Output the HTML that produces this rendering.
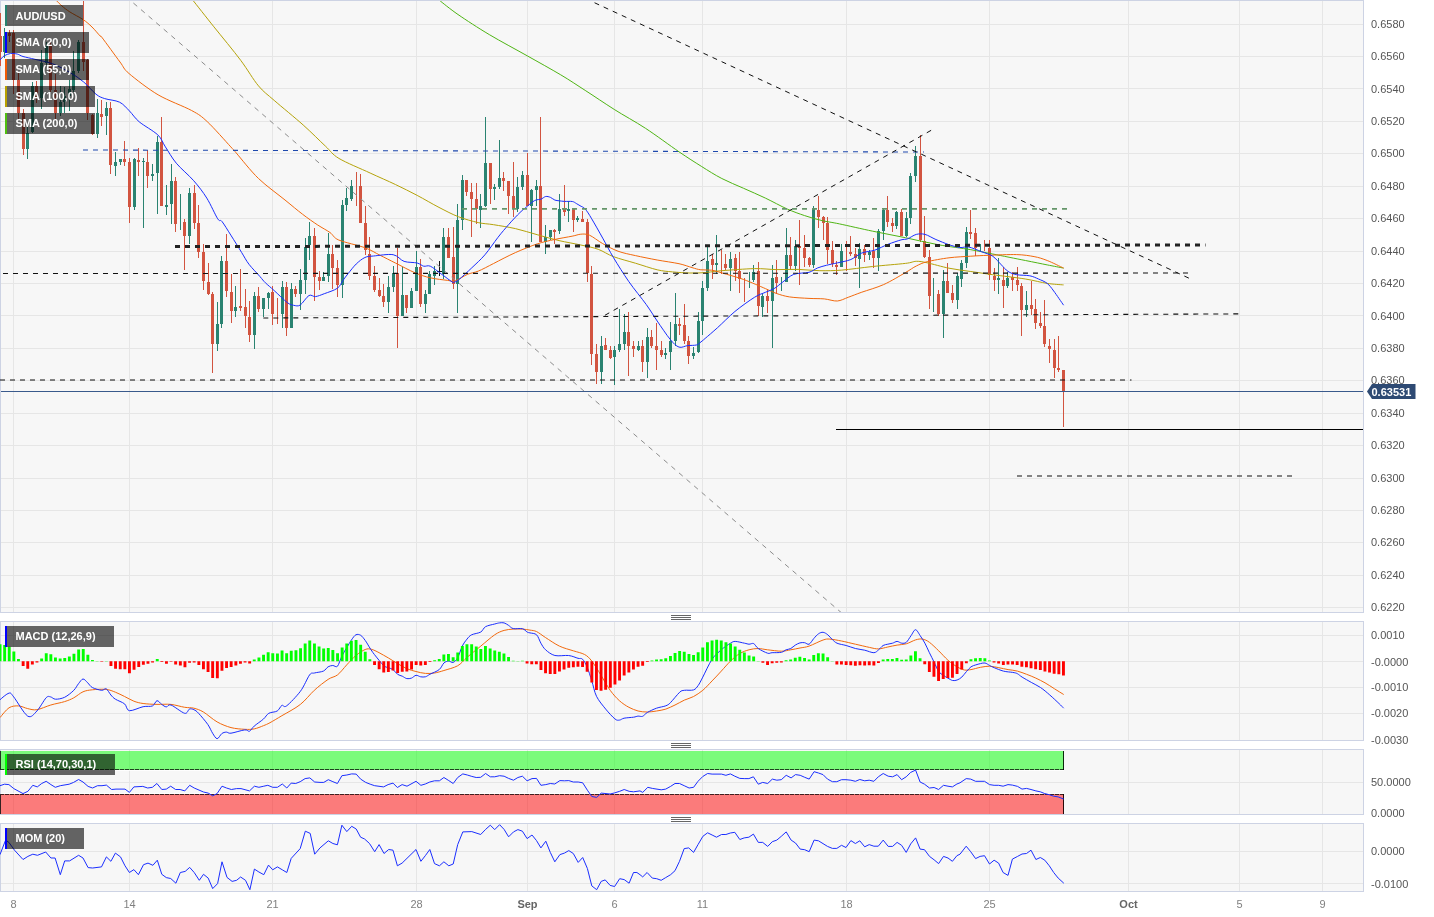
<!DOCTYPE html>
<html lang="en"><head><meta charset="utf-8"><title>AUD/USD 4H chart</title>
<style>html,body{margin:0;padding:0;background:#fff}body{width:1434px;height:917px;overflow:hidden}svg{display:block}text{font-family:"Liberation Sans",Arial,sans-serif}</style></head><body>
<svg width="1434" height="917" viewBox="0 0 1434 917">
<rect width="1434" height="917" fill="#fff"/>
<defs>
<clipPath id="cp0"><rect x="0" y="1" width="1363" height="611"/></clipPath>
<clipPath id="cp1"><rect x="0" y="622" width="1363" height="118"/></clipPath>
<clipPath id="cp2"><rect x="0" y="750" width="1363" height="64"/></clipPath>
<clipPath id="cp3"><rect x="0" y="824" width="1363" height="67"/></clipPath>
</defs>
<g shape-rendering="crispEdges">
<rect x="0" y="0" width="1364" height="613" fill="#cdd3e4"/>
<rect x="1" y="1" width="1362" height="611" fill="#f7f7f7"/>
<rect x="13" y="1" width="1" height="611" fill="#e6e6e6"/>
<rect x="129" y="1" width="1" height="611" fill="#e6e6e6"/>
<rect x="272" y="1" width="1" height="611" fill="#e6e6e6"/>
<rect x="416" y="1" width="1" height="611" fill="#e6e6e6"/>
<rect x="527" y="1" width="1" height="611" fill="#e6e6e6"/>
<rect x="614" y="1" width="1" height="611" fill="#e6e6e6"/>
<rect x="702" y="1" width="1" height="611" fill="#e6e6e6"/>
<rect x="846" y="1" width="1" height="611" fill="#e6e6e6"/>
<rect x="989" y="1" width="1" height="611" fill="#e6e6e6"/>
<rect x="1128" y="1" width="1" height="611" fill="#e6e6e6"/>
<rect x="1239" y="1" width="1" height="611" fill="#e6e6e6"/>
<rect x="1322" y="1" width="1" height="611" fill="#e6e6e6"/>
<rect x="1" y="24" width="1362" height="1" fill="#e6e6e6"/>
<rect x="1" y="56" width="1362" height="1" fill="#e6e6e6"/>
<rect x="1" y="88" width="1362" height="1" fill="#e6e6e6"/>
<rect x="1" y="121" width="1362" height="1" fill="#e6e6e6"/>
<rect x="1" y="153" width="1362" height="1" fill="#e6e6e6"/>
<rect x="1" y="186" width="1362" height="1" fill="#e6e6e6"/>
<rect x="1" y="218" width="1362" height="1" fill="#e6e6e6"/>
<rect x="1" y="251" width="1362" height="1" fill="#e6e6e6"/>
<rect x="1" y="283" width="1362" height="1" fill="#e6e6e6"/>
<rect x="1" y="315" width="1362" height="1" fill="#e6e6e6"/>
<rect x="1" y="348" width="1362" height="1" fill="#e6e6e6"/>
<rect x="1" y="380" width="1362" height="1" fill="#e6e6e6"/>
<rect x="1" y="413" width="1362" height="1" fill="#e6e6e6"/>
<rect x="1" y="445" width="1362" height="1" fill="#e6e6e6"/>
<rect x="1" y="478" width="1362" height="1" fill="#e6e6e6"/>
<rect x="1" y="510" width="1362" height="1" fill="#e6e6e6"/>
<rect x="1" y="542" width="1362" height="1" fill="#e6e6e6"/>
<rect x="1" y="575" width="1362" height="1" fill="#e6e6e6"/>
<rect x="1" y="607" width="1362" height="1" fill="#e6e6e6"/>
<rect x="0" y="621" width="1364" height="120" fill="#cdd3e4"/>
<rect x="1" y="622" width="1362" height="118" fill="#f7f7f7"/>
<rect x="13" y="622" width="1" height="118" fill="#e6e6e6"/>
<rect x="129" y="622" width="1" height="118" fill="#e6e6e6"/>
<rect x="272" y="622" width="1" height="118" fill="#e6e6e6"/>
<rect x="416" y="622" width="1" height="118" fill="#e6e6e6"/>
<rect x="527" y="622" width="1" height="118" fill="#e6e6e6"/>
<rect x="614" y="622" width="1" height="118" fill="#e6e6e6"/>
<rect x="702" y="622" width="1" height="118" fill="#e6e6e6"/>
<rect x="846" y="622" width="1" height="118" fill="#e6e6e6"/>
<rect x="989" y="622" width="1" height="118" fill="#e6e6e6"/>
<rect x="1128" y="622" width="1" height="118" fill="#e6e6e6"/>
<rect x="1239" y="622" width="1" height="118" fill="#e6e6e6"/>
<rect x="1322" y="622" width="1" height="118" fill="#e6e6e6"/>
<rect x="1" y="635" width="1362" height="1" fill="#e6e6e6"/>
<rect x="1" y="661" width="1362" height="1" fill="#e6e6e6"/>
<rect x="1" y="687" width="1362" height="1" fill="#e6e6e6"/>
<rect x="1" y="713" width="1362" height="1" fill="#e6e6e6"/>
<rect x="0" y="749" width="1364" height="66" fill="#cdd3e4"/>
<rect x="1" y="750" width="1362" height="64" fill="#f7f7f7"/>
<rect x="13" y="750" width="1" height="64" fill="#e6e6e6"/>
<rect x="129" y="750" width="1" height="64" fill="#e6e6e6"/>
<rect x="272" y="750" width="1" height="64" fill="#e6e6e6"/>
<rect x="416" y="750" width="1" height="64" fill="#e6e6e6"/>
<rect x="527" y="750" width="1" height="64" fill="#e6e6e6"/>
<rect x="614" y="750" width="1" height="64" fill="#e6e6e6"/>
<rect x="702" y="750" width="1" height="64" fill="#e6e6e6"/>
<rect x="846" y="750" width="1" height="64" fill="#e6e6e6"/>
<rect x="989" y="750" width="1" height="64" fill="#e6e6e6"/>
<rect x="1128" y="750" width="1" height="64" fill="#e6e6e6"/>
<rect x="1239" y="750" width="1" height="64" fill="#e6e6e6"/>
<rect x="1322" y="750" width="1" height="64" fill="#e6e6e6"/>
<rect x="1" y="782" width="1362" height="1" fill="#e6e6e6"/>
<rect x="0" y="823" width="1364" height="69" fill="#cdd3e4"/>
<rect x="1" y="824" width="1362" height="67" fill="#f7f7f7"/>
<rect x="13" y="824" width="1" height="67" fill="#e6e6e6"/>
<rect x="129" y="824" width="1" height="67" fill="#e6e6e6"/>
<rect x="272" y="824" width="1" height="67" fill="#e6e6e6"/>
<rect x="416" y="824" width="1" height="67" fill="#e6e6e6"/>
<rect x="527" y="824" width="1" height="67" fill="#e6e6e6"/>
<rect x="614" y="824" width="1" height="67" fill="#e6e6e6"/>
<rect x="702" y="824" width="1" height="67" fill="#e6e6e6"/>
<rect x="846" y="824" width="1" height="67" fill="#e6e6e6"/>
<rect x="989" y="824" width="1" height="67" fill="#e6e6e6"/>
<rect x="1128" y="824" width="1" height="67" fill="#e6e6e6"/>
<rect x="1239" y="824" width="1" height="67" fill="#e6e6e6"/>
<rect x="1322" y="824" width="1" height="67" fill="#e6e6e6"/>
<rect x="1" y="851" width="1362" height="1" fill="#e6e6e6"/>
<rect x="1" y="883" width="1362" height="1" fill="#e6e6e6"/>
</g>
<g clip-path="url(#cp0)">
<path shape-rendering="crispEdges" fill="#d25440" d="M0,13h1v53h-1zM-1,36h3v16h-3zM9,30h1v12h-1zM8,33h3v3h-3zM13,30h1v64h-1zM12,33h3v47h-3zM18,73h1v46h-1zM17,80h3v33h-3zM23,109h1v46h-1zM22,113h3v36h-3zM36,81h1v22h-1zM35,86h3v12h-3zM50,42h1v50h-1zM49,46h3v44h-3zM55,74h1v45h-1zM54,90h3v23h-3zM83,0h1v71h-1zM82,42h3v20h-3zM87,59h1v61h-1zM86,60h3v53h-3zM92,114h1v21h-1zM91,115h3v19h-3zM101,100h1v26h-1zM100,114h3v3h-3zM110,102h1v72h-1zM109,108h3v57h-3zM124,141h1v25h-1zM123,159h3v3h-3zM129,158h1v65h-1zM128,162h3v45h-3zM138,148h1v28h-1zM137,160h3v2h-3zM147,150h1v38h-1zM146,162h3v14h-3zM161,117h1v89h-1zM160,142h3v64h-3zM175,177h1v55h-1zM174,181h3v43h-3zM184,219h1v51h-1zM183,222h3v14h-3zM194,185h1v44h-1zM193,193h3v30h-3zM198,205h1v53h-1zM197,223h3v29h-3zM203,244h1v46h-1zM202,252h3v29h-3zM208,263h1v32h-1zM207,282h3v12h-3zM212,292h1v81h-1zM211,294h3v50h-3zM226,234h1v63h-1zM225,261h3v30h-3zM231,274h1v49h-1zM230,292h3v19h-3zM240,269h1v42h-1zM239,306h3v2h-3zM245,289h1v39h-1zM244,307h3v9h-3zM249,301h1v41h-1zM248,317h3v18h-3zM258,287h1v25h-1zM257,296h3v13h-3zM272,286h1v39h-1zM271,292h3v22h-3zM277,298h1v26h-1zM286,282h1v54h-1zM285,287h3v41h-3zM295,286h1v11h-1zM294,289h3v5h-3zM314,228h1v73h-1zM313,236h3v41h-3zM319,271h1v19h-1zM318,277h3v4h-3zM332,245h1v44h-1zM331,254h3v14h-3zM337,260h1v37h-1zM336,268h3v17h-3zM356,172h1v34h-1zM360,174h1v49h-1zM359,186h3v37h-3zM365,206h1v49h-1zM364,223h3v27h-3zM369,237h1v43h-1zM368,254h3v22h-3zM374,266h1v26h-1zM373,276h3v14h-3zM379,278h1v19h-1zM378,290h3v6h-3zM383,284h1v23h-1zM382,296h3v6h-3zM397,248h1v100h-1zM396,273h3v43h-3zM406,295h1v18h-1zM405,295h3v13h-3zM420,259h1v48h-1zM419,267h3v37h-3zM448,228h1v30h-1zM447,237h3v21h-3zM453,227h1v62h-1zM452,257h3v27h-3zM466,180h1v16h-1zM465,180h3v12h-3zM471,183h1v54h-1zM470,192h3v7h-3zM476,183h1v41h-1zM475,199h3v10h-3zM490,163h1v41h-1zM489,163h3v26h-3zM503,172h1v19h-1zM502,178h3v3h-3zM508,181h1v33h-1zM507,181h3v15h-3zM513,162h1v55h-1zM512,196h3v13h-3zM527,153h1v53h-1zM526,175h3v31h-3zM540,117h1v125h-1zM539,186h3v56h-3zM554,229h1v15h-1zM553,230h3v2h-3zM564,185h1v31h-1zM563,209h3v3h-3zM573,209h1v23h-1zM572,209h3v11h-3zM582,211h1v11h-1zM581,219h3v3h-3zM587,219h1v63h-1zM586,222h3v51h-3zM591,266h1v99h-1zM590,274h3v80h-3zM596,344h1v40h-1zM595,354h3v18h-3zM605,338h1v12h-1zM604,345h3v5h-3zM610,346h1v13h-1zM609,350h3v8h-3zM628,312h1v64h-1zM627,332h3v14h-3zM633,341h1v16h-1zM632,346h3v3h-3zM642,340h1v32h-1zM641,346h3v16h-3zM651,330h1v18h-1zM650,337h3v9h-3zM656,323h1v47h-1zM655,346h3v4h-3zM661,341h1v16h-1zM660,350h3v5h-3zM679,318h1v17h-1zM678,324h3v2h-3zM684,304h1v40h-1zM683,325h3v16h-3zM688,336h1v28h-1zM687,341h3v15h-3zM712,254h1v25h-1zM711,259h3v6h-3zM721,250h1v24h-1zM725,254h1v16h-1zM724,264h3v4h-3zM735,254h1v27h-1zM734,258h3v13h-3zM739,252h1v41h-1zM738,271h3v8h-3zM744,278h1v24h-1zM758,262h1v54h-1zM757,271h3v35h-3zM767,289h1v24h-1zM766,296h3v5h-3zM776,260h1v34h-1zM775,277h3v6h-3zM790,237h1v32h-1zM789,255h3v11h-3zM799,220h1v65h-1zM798,246h3v2h-3zM804,235h1v32h-1zM803,248h3v10h-3zM809,257h1v10h-1zM808,258h3v7h-3zM818,196h1v32h-1zM817,210h3v7h-3zM823,216h1v24h-1zM822,217h3v6h-3zM827,217h1v47h-1zM826,223h3v27h-3zM832,241h1v26h-1zM831,250h3v14h-3zM836,261h1v14h-1zM835,265h3v2h-3zM846,241h1v30h-1zM850,236h1v20h-1zM849,252h3v2h-3zM855,248h1v18h-1zM854,254h3v4h-3zM864,245h1v17h-1zM863,249h3v6h-3zM873,238h1v30h-1zM872,251h3v7h-3zM887,196h1v31h-1zM886,210h3v12h-3zM892,218h1v14h-1zM891,223h3v3h-3zM901,209h1v27h-1zM900,212h3v24h-3zM920,135h1v107h-1zM919,156h3v84h-3zM924,216h1v42h-1zM923,241h3v16h-3zM929,250h1v59h-1zM928,257h3v39h-3zM938,290h1v26h-1zM937,294h3v20h-3zM947,263h1v30h-1zM946,281h3v12h-3zM952,285h1v18h-1zM951,293h3v7h-3zM970,210h1v29h-1zM969,232h3v2h-3zM975,228h1v28h-1zM974,233h3v15h-3zM984,240h1v11h-1zM989,240h1v40h-1zM988,248h3v27h-3zM994,268h1v23h-1zM993,276h3v4h-3zM1003,267h1v41h-1zM1002,280h3v6h-3zM1012,272h1v19h-1zM1011,277h3v3h-3zM1017,267h1v24h-1zM1016,280h3v5h-3zM1021,283h1v53h-1zM1020,286h3v24h-3zM1031,281h1v34h-1zM1030,305h3v4h-3zM1035,299h1v30h-1zM1034,309h3v14h-3zM1040,312h1v16h-1zM1039,323h3v3h-3zM1044,300h1v47h-1zM1043,326h3v18h-3zM1049,339h1v24h-1zM1048,346h3v3h-3zM1054,339h1v39h-1zM1053,350h3v18h-3zM1058,336h1v36h-1zM1057,368h3v2h-3zM1063,370h1v57h-1zM1062,370h3v21h-3z"/>
<path shape-rendering="crispEdges" fill="#2a8371" d="M4,28h1v30h-1zM3,36h3v16h-3zM27,126h1v33h-1zM26,133h3v16h-3zM32,82h1v51h-1zM31,86h3v46h-3zM41,50h1v59h-1zM40,63h3v35h-3zM46,42h1v23h-1zM45,46h3v17h-3zM60,86h1v30h-1zM59,102h3v11h-3zM64,87h1v26h-1zM63,96h3v6h-3zM69,80h1v31h-1zM68,89h3v7h-3zM73,51h1v41h-1zM72,71h3v19h-3zM78,40h1v33h-1zM77,42h3v29h-3zM97,99h1v39h-1zM96,113h3v21h-3zM106,102h1v33h-1zM105,108h3v8h-3zM115,152h1v24h-1zM114,162h3v4h-3zM120,159h1v6h-1zM119,159h3v3h-3zM134,158h1v52h-1zM133,159h3v48h-3zM143,158h1v70h-1zM142,161h3v1h-3zM152,164h1v17h-1zM151,174h3v2h-3zM157,136h1v78h-1zM156,142h3v31h-3zM166,185h1v30h-1zM165,205h3v2h-3zM171,164h1v60h-1zM170,181h3v23h-3zM180,194h1v36h-1zM189,188h1v56h-1zM188,193h3v43h-3zM217,302h1v49h-1zM216,324h3v20h-3zM221,256h1v72h-1zM220,261h3v63h-3zM235,286h1v31h-1zM234,307h3v4h-3zM254,292h1v57h-1zM253,296h3v39h-3zM263,298h1v19h-1zM262,298h3v11h-3zM268,292h1v17h-1zM267,293h3v5h-3zM282,281h1v47h-1zM281,287h3v27h-3zM291,283h1v45h-1zM290,289h3v39h-3zM300,269h1v41h-1zM299,280h3v14h-3zM305,238h1v56h-1zM304,247h3v33h-3zM309,222h1v38h-1zM308,236h3v9h-3zM323,272h1v9h-1zM322,277h3v4h-3zM328,233h1v49h-1zM327,254h3v22h-3zM342,200h1v98h-1zM341,205h3v80h-3zM346,188h1v23h-1zM345,198h3v7h-3zM351,180h1v21h-1zM350,186h3v13h-3zM388,276h1v37h-1zM387,287h3v15h-3zM393,266h1v26h-1zM392,273h3v14h-3zM402,267h1v49h-1zM401,295h3v21h-3zM411,288h1v20h-1zM410,291h3v17h-3zM416,251h1v40h-1zM415,267h3v24h-3zM425,290h1v23h-1zM424,294h3v10h-3zM429,271h1v23h-1zM428,274h3v20h-3zM434,266h1v19h-1zM433,271h3v5h-3zM443,228h1v51h-1zM442,237h3v37h-3zM457,204h1v109h-1zM456,220h3v64h-3zM462,175h1v55h-1zM461,180h3v40h-3zM480,194h1v34h-1zM479,206h3v4h-3zM485,117h1v90h-1zM484,163h3v43h-3zM494,184h1v16h-1zM493,187h3v2h-3zM499,140h1v49h-1zM498,178h3v9h-3zM517,177h1v35h-1zM516,187h3v22h-3zM522,171h1v19h-1zM521,175h3v12h-3zM531,189h1v53h-1zM530,190h3v16h-3zM536,180h1v26h-1zM535,186h3v4h-3zM545,225h1v29h-1zM544,237h3v5h-3zM550,230h1v10h-1zM549,230h3v7h-3zM559,194h1v40h-1zM558,209h3v22h-3zM568,201h1v21h-1zM567,209h3v2h-3zM577,216h1v6h-1zM576,218h3v2h-3zM601,336h1v48h-1zM600,346h3v26h-3zM614,346h1v39h-1zM613,350h3v7h-3zM619,309h1v43h-1zM618,344h3v6h-3zM624,314h1v36h-1zM623,332h3v12h-3zM638,341h1v10h-1zM637,346h3v4h-3zM647,328h1v50h-1zM646,337h3v25h-3zM665,348h1v11h-1zM664,353h3v2h-3zM670,322h1v48h-1zM669,341h3v11h-3zM675,293h1v53h-1zM674,324h3v17h-3zM693,347h1v12h-1zM692,353h3v3h-3zM698,312h1v41h-1zM697,321h3v31h-3zM702,281h1v54h-1zM701,288h3v33h-3zM707,247h1v44h-1zM706,261h3v27h-3zM716,235h1v39h-1zM715,263h3v2h-3zM730,252h1v39h-1zM729,259h3v9h-3zM749,272h1v16h-1zM753,265h1v17h-1zM752,272h3v8h-3zM762,294h1v23h-1zM761,296h3v11h-3zM772,265h1v83h-1zM771,278h3v23h-3zM781,277h1v14h-1zM786,228h1v54h-1zM785,255h3v27h-3zM795,240h1v31h-1zM794,246h3v20h-3zM813,206h1v62h-1zM812,208h3v57h-3zM841,244h1v23h-1zM840,251h3v16h-3zM859,243h1v45h-1zM858,249h3v10h-3zM869,250h1v10h-1zM868,252h3v3h-3zM878,229h1v42h-1zM877,231h3v27h-3zM883,208h1v32h-1zM882,210h3v21h-3zM896,211h1v18h-1zM895,212h3v14h-3zM906,212h1v25h-1zM905,218h3v18h-3zM910,173h1v51h-1zM909,176h3v42h-3zM915,146h1v36h-1zM914,156h3v20h-3zM933,278h1v34h-1zM943,270h1v68h-1zM942,281h3v33h-3zM957,273h1v36h-1zM956,276h3v24h-3zM961,260h1v27h-1zM960,263h3v16h-3zM966,227h1v41h-1zM965,232h3v31h-3zM980,244h1v8h-1zM998,258h1v36h-1zM997,278h3v2h-3zM1007,272h1v16h-1zM1006,278h3v8h-3zM1026,291h1v26h-1zM1025,305h3v5h-3z"/>
<path shape-rendering="crispEdges" fill="#111" d="M439,261h1v15h-1zM437,271h5v1h-5z"/>
<path d="M439,0C442,2.3 450,9 458,14.5C466,20 478.2,28 489.3,34.6C500.4,41.2 515.8,49.4 527.2,55.8C538.6,62.2 551.4,69.3 560.7,74.8C570,80.3 576.6,84.9 585.2,90.4C593.8,95.9 604.6,103.3 614.2,109.4C623.8,115.5 635.1,121.5 645.5,128.3C655.9,135.1 670.1,145.7 679,151.8C687.9,157.9 694.5,162 701.3,166.3C708.1,170.6 715,175 721.8,178.5C728.6,182 736.6,185.2 743.6,188.3C750.6,191.4 758.4,194.8 765.4,198.1C772.4,201.4 780.9,206.2 787.2,209C793.5,211.8 799,213.7 804.6,215.6C810.2,217.5 816.5,219.3 822.1,220.6C827.7,221.9 831.4,222.2 839.5,223.9C847.6,225.6 862.2,229 872.7,231.2C883.2,233.4 894.9,235.5 905.4,237.7C915.9,239.9 927.6,242.8 938.1,244.7C948.6,246.6 962.1,248.2 970.8,249.7C979.5,251.2 984,252.3 992.7,254C1001.4,255.7 1016.7,258.8 1025.4,260.5C1034.1,262.2 1041.1,263.7 1047.2,264.9C1053.3,266.1 1061,267.6 1063.6,268.1" fill="none" stroke="#4fb514" stroke-width="1"/>
<path d="M192.7,0C196.1,4.3 206.2,17.2 213.9,26.8C221.6,36.4 233.6,50.8 240.7,60.3C247.8,69.8 253.1,79.5 258.5,85.9C263.9,92.3 267,94.1 274.2,100.4C281.4,106.7 295,117.7 303.2,125C311.4,132.3 319.8,140.9 325.5,146.2C331.2,151.5 331.8,154.1 338.9,158.4C346,162.7 361.1,168.8 370.1,173C379.1,177.2 387.9,180.9 395.4,184.5C402.9,188.1 410.2,191.7 417.2,195.4C424.2,199.1 432.4,204 439,207.4C445.6,210.8 452.3,214.4 458.6,216.8C464.9,219.2 472.6,221.3 478.2,222.6C483.8,223.9 487.6,223.7 493.6,224.7C499.6,225.7 508.4,227 515.4,228.6C522.4,230.2 530.2,232.8 537.2,234.7C544.2,236.6 552,239 559,240.6C566,242.2 574.5,243.6 580.8,245C587.1,246.4 593,247.4 598.2,249.3C603.4,251.2 607.6,254.5 613.6,256.7C619.6,258.9 628.4,261.1 635.4,263.2C642.4,265.3 651.3,268.4 657.2,269.8C663.1,271.2 667.3,271.4 672.5,271.9C677.7,272.4 684.7,272.9 689.9,273C695.1,273.1 700.1,273 705.2,272.6C710.3,272.2 713.9,271.3 721.8,270.7C729.7,270.1 745.8,268.8 754.5,268.6C763.2,268.4 769.3,269.5 776.3,269.6C783.3,269.7 791.1,269.2 798.1,269.4C805.1,269.6 812.9,270.6 819.9,270.7C826.9,270.8 833.3,270.8 841.7,270.1C850.1,269.4 862.5,267.6 872.7,266.5C882.9,265.4 898.4,264.2 905.4,263.4C912.4,262.6 912.8,261.4 916.3,261.3C919.8,261.2 922,261.7 927.2,262.8C932.4,263.9 942,266.8 949,268.2C956,269.6 963.8,270.5 970.8,271.5C977.8,272.5 984,273.5 992.7,274.7C1001.4,275.9 1016.7,277.6 1025.4,279C1034.1,280.4 1041.1,282.5 1047.2,283.4C1053.3,284.3 1061,284.7 1063.6,284.9" fill="none" stroke="#b5a30a" stroke-width="1"/>
<path d="M55.8,0C56.8,1 59.8,4.1 62,6C64.2,7.9 66.4,9.7 69.8,11.9C73.2,14.1 79.4,17.1 83,19.5C86.6,21.9 89.3,24.4 92,27C94.7,29.6 98.4,34.2 100,35.9C101.6,37.6 99.1,33.7 102.3,37.9C105.5,42.1 115.7,56.3 120,62C124.3,67.7 123,68.4 129.1,73.6C135.2,78.8 148.1,88.9 158.1,94.8C168.1,100.7 183.7,106.2 191.6,110.5C199.5,114.8 200.9,115.8 207.2,121.6C213.5,127.4 226.2,141.9 230.8,146.9C235.4,151.9 231.8,147.8 236.2,152.9C240.6,158 250.7,171 258.5,178.5C266.3,186 278,194.3 285,200C292,205.7 297.3,210.2 302.5,214.2C307.7,218.2 313.3,222.1 317.7,225C322.1,227.9 326.6,230.1 330,232.5C333.4,234.9 333.1,237.6 338.7,240C344.3,242.4 358.3,245.3 364.9,247.7C371.5,250.1 375.2,252.9 380.1,255.3C385,257.7 389.8,260.2 395.4,263C401,265.8 409.4,270.4 415,272.8C420.6,275.2 425.1,276.6 430.3,277.8C435.5,279 443.7,279.9 447.7,280.4C451.7,280.9 452.1,281.8 455.3,280.8C458.5,279.8 463.7,276 467.4,274.4C471.1,272.8 474.1,272.8 478.3,271.1C482.5,269.4 487.7,266.5 493.6,263.5C499.5,260.5 508.4,255.7 515.4,252.6C522.4,249.5 530.9,246 537.2,243.9C543.5,241.8 549,240.7 554.6,239.5C560.2,238.3 567.9,237 572.1,236.2C576.3,235.4 578,234.4 580.8,234.2C583.6,234 586,233.7 589.5,235.2C593,236.7 598.1,241 602.7,243.6C607.3,246.2 612.8,249.3 618,251.2C623.2,253.1 629.1,254.2 635.4,255.6C641.7,257 650.2,258.7 657.2,260C664.2,261.3 673.4,262.5 679,263.7C684.6,264.9 688.5,266.6 692,267.6C695.5,268.6 697.6,269.4 700.8,269.8C704,270.2 708.3,269.7 711.7,270.2C715.1,270.7 716.7,271.4 721.8,272.9C726.9,274.4 736.6,277 743.6,279.5C750.6,282 760.2,286.4 765.4,288.6C770.6,290.8 772.5,292.1 776.3,293.4C780.1,294.7 784.2,296.1 789.4,296.9C794.6,297.7 803.4,298.1 809,298.4C814.6,298.7 819.8,298.5 824.3,298.9C828.8,299.3 833.5,301.3 837.3,301C841.1,300.7 844.3,298.7 848.2,297.3C852.1,295.9 856.1,294.2 861.8,292.2C867.5,290.2 876.6,287.7 883.6,284.6C890.6,281.5 900.2,275.6 905.4,272.6C910.6,269.6 912.8,267.7 916.3,266C919.8,264.3 922,263 927.2,261.7C932.4,260.4 942,258.7 949,257.8C956,256.9 964.5,256.6 970.8,256.2C977.1,255.8 980.9,255.6 988.2,255.3C995.5,255 1009.4,254.4 1016.7,254.6C1024,254.8 1029.2,255.7 1034.1,256.6C1039,257.5 1042.5,258.7 1047.2,260.5C1051.9,262.3 1061,266.9 1063.6,268.1" fill="none" stroke="#f2690d" stroke-width="1"/>
<path d="M0,60C0.7,59.3 2.5,56.8 4.2,55.8C5.9,54.8 8.4,53.8 10.5,53.5C12.6,53.2 15.4,53.6 17.4,54.1C19.4,54.6 20.2,55.7 23,56.5C25.8,57.3 30.2,58.1 34.9,59.3C39.6,60.5 46.7,61.6 52.3,63.7C57.9,65.8 64.8,69.5 69.8,72.4C74.8,75.3 79.5,78.5 83.7,82C87.9,85.5 92.6,91.5 96,94.2C99.4,96.9 100.9,97.3 104.7,98.6C108.5,99.9 115.6,100.2 119.6,102.2C123.6,104.2 126.3,107.8 129.4,110.9C132.5,114 134.7,118 139.2,121.8C143.7,125.6 153.6,130.9 157.8,134.9C162,138.9 162.4,142.4 165.4,146.9C168.4,151.4 171.8,157.8 176.3,163.2C180.8,168.6 188.8,175.1 193.7,180.7C198.6,186.3 203,192 206.8,198.1C210.6,204.2 215.3,215.1 217.7,218.8C220.1,222.5 219.9,218.9 222,221.5C224.1,224.1 227.6,230.1 230.8,235.1C234,240.1 238.8,247.9 241.7,252.6C244.6,257.3 246.1,260.5 249,264.3C251.9,268.1 257.4,273.6 260,276.6C262.6,279.6 263.1,280.6 265.4,282.8C267.7,285 270.6,287.3 274.1,290.5C277.6,293.7 284.1,300.1 287.2,302.5C290.3,304.9 291.6,304.9 293.7,305.3C295.8,305.7 297.9,306.6 300.3,305C302.7,303.4 306.6,296.8 309,295.5C311.4,294.2 313.1,296.9 315.5,296.6C317.9,296.3 320.8,295 324.3,293.7C327.8,292.4 334.3,290.4 337.3,288.3C340.3,286.2 341.3,282.8 343,280.4C344.7,278 346.1,276.1 348.2,273.5C350.3,270.9 353.5,266.6 356.2,264C358.9,261.4 362.1,258.8 364.9,257.5C367.7,256.2 369.1,256.4 373.6,256C378.1,255.6 388.3,253.8 393.2,254.7C398.1,255.6 400.3,260.1 404.1,261.4C407.9,262.7 414.1,262.2 417.2,263C420.3,263.8 421.6,265.7 423.7,266.2C425.8,266.7 427.5,265 430.3,266.2C433.1,267.4 437.7,271.4 441.2,273.9C444.7,276.4 450,280.6 452.1,281.9C454.2,283.2 453.3,282.3 454.4,282C455.5,281.7 455.9,282.1 458.7,279.8C461.5,277.5 467.6,271.8 471.8,267.8C476,263.8 480.7,259.7 484.9,254.8C489.1,249.9 494.2,242.2 498,237.3C501.8,232.4 505.4,228.3 508.9,224.3C512.4,220.3 517,215.4 520,212.5C523,209.6 525.4,207.9 527.4,206.2C529.4,204.5 531.1,202.8 532.6,201.8C534.1,200.8 535.3,200.2 536.6,199.8C537.9,199.4 539.4,199.7 540.9,199.2C542.4,198.7 544.2,196.8 545.7,196.5C547.2,196.2 549,196.8 550.5,197.4C552,198 553.5,199.6 554.9,200.1C556.3,200.6 557.7,200.6 559.2,200.8C560.7,201 562.4,201.3 564.5,201.4C566.6,201.5 570.4,201.2 572.3,201.5C574.2,201.8 575.1,202.8 576.3,203.5C577.5,204.2 578.6,204.8 580,205.7C581.4,206.6 583.3,206.9 585.2,209C587.1,211.1 588.9,214.1 591.7,218.8C594.5,223.5 599.2,231.9 602.7,238.1C606.2,244.3 609.4,250.8 613.6,257.8C617.8,264.8 623.7,274.2 628.9,281.7C634.1,289.2 641.8,298.3 646.3,304.6C650.8,310.9 653.4,315.4 657.2,321C661,326.6 666.8,335.3 670.3,339.5C673.8,343.7 676.2,346.1 679,347.1C681.8,348.1 684.9,345.9 687.7,345.6C690.5,345.3 694.4,345.5 696.4,345C698.4,344.5 698.6,343.8 700,342.7C701.4,341.6 702.4,340.8 705.2,338.4C708,336 712.6,332.1 717.4,327.8C722.2,323.5 729,316.4 734.9,311.5C740.8,306.6 749.6,300.4 754.5,297.3C759.4,294.2 762.3,293.7 765.4,292.3C768.5,290.9 771.3,290.2 774.1,288.6C776.9,287 779.7,284.3 782.8,282C785.9,279.7 789.5,276 793.7,274.4C797.9,272.8 805.2,273.3 809,272.3C812.8,271.3 814.9,269 817.7,267.9C820.5,266.8 823.3,266.1 826.4,265.3C829.5,264.5 833.4,263.8 837.3,262.9C841.2,262 847,261.1 850.9,259.5C854.8,257.9 858,254.5 861.8,253C865.6,251.5 870.7,251.5 874.9,250.1C879.1,248.7 883.8,245.9 888,244.3C892.2,242.7 897.9,240.8 901,239.9C904.1,239 905.2,239.7 907.6,238.8C910,237.9 913.5,235.1 916.3,234.4C919.1,233.7 921.9,233.6 925,234.4C928.1,235.2 932.1,237.9 935.9,239.5C939.7,241.1 945.2,243.4 949,244.7C952.8,246 956.7,247.1 959.9,247.5C963.1,247.9 965.2,246.3 968.7,247C972.2,247.7 978,250.3 981.8,251.8C985.6,253.3 989.6,254.1 992.7,256.2C995.8,258.3 999,262.5 1001.4,264.9C1003.8,267.3 1005.6,269.8 1008,271.4C1010.4,273 1013.2,274 1016.7,274.7C1020.2,275.4 1026.3,275.1 1029.8,275.8C1033.3,276.5 1035.7,277.8 1038.5,279C1041.3,280.2 1044.8,281.5 1047.2,283.4C1049.6,285.3 1051.1,287.5 1053.7,291C1056.3,294.5 1062,302.9 1063.6,305.2" fill="none" stroke="#1a2eff" stroke-width="1"/>
<line x1="133.4" y1="3.06" x2="841" y2="612.4" stroke="#8c8c8c" stroke-width="1" stroke-dasharray="5 5"/>
<line x1="83" y1="150" x2="924" y2="152" stroke="#1f49ad" stroke-width="1.05" stroke-dasharray="5 5"/>
<line x1="462" y1="208.9" x2="1067.5" y2="208.9" stroke="#65966a" stroke-width="1.6" stroke-dasharray="5 5"/>
<line x1="175" y1="246.6" x2="1205.5" y2="245" stroke="#222" stroke-width="3" stroke-dasharray="5 5"/>
<line x1="3" y1="273.55" x2="1188.5" y2="273.05" stroke="#111" stroke-width="1.1" stroke-dasharray="5 5"/>
<line x1="263.3" y1="318" x2="1238.3" y2="313.9" stroke="#111" stroke-width="1.1" stroke-dasharray="5 5"/>
<line x1="0" y1="380" x2="1131.5" y2="380" stroke="#111" stroke-width="1.1" stroke-dasharray="5 5"/>
<line x1="585.5" y1="-1.44" x2="1189.2" y2="278.3" stroke="#111" stroke-width="1" stroke-dasharray="5 5"/>
<line x1="604.9" y1="315.3" x2="931.8" y2="129.95" stroke="#111" stroke-width="1" stroke-dasharray="5 5"/>
<line x1="1017" y1="476" x2="1292" y2="476" stroke="#111" stroke-width="1.1" stroke-dasharray="5 5"/>
<g shape-rendering="crispEdges">
<rect x="836" y="429" width="527" height="1" fill="#000"/>
<rect x="1" y="391" width="1362" height="1" fill="#3a5a8c"/>
</g>
</g>
<g clip-path="url(#cp1)">
<path d="M0,717.6C1.4,716 6,709.7 9,707.8C12,705.9 15.5,705.8 18.5,705.9C21.5,706 24.8,708 27.7,708.6C30.6,709.2 33.2,710.3 36.9,709.7C40.6,709.1 46.4,706.3 50.8,705C55.2,703.7 60.9,702.8 64.6,701.6C68.3,700.4 70.9,699.4 73.8,697.8C76.7,696.2 80,693.1 83,691.8C86,690.5 88.6,690.2 92.3,689.8C96,689.4 102.5,689 106.2,689.4C109.9,689.8 112.5,691.1 115.4,692.2C118.3,693.3 121.6,695.1 124.6,696.5C127.6,697.9 130.9,700.1 133.9,701.2C136.9,702.3 139.4,703 143.1,703.5C146.8,704 152.5,704.3 157,704.4C161.5,704.5 166.6,703.9 171,704.4C175.4,704.9 181,706.7 184.7,707.3C188.4,707.9 190.9,707.4 193.9,708.2C196.9,709 199.7,709.8 203.4,712C207.1,714.2 212.7,719.4 217.1,721.9C221.5,724.4 226.6,726.4 231,727.6C235.4,728.8 241.1,729.1 244.8,729.3C248.5,729.5 251.2,729.5 254.2,728.9C257.2,728.3 260.9,726.7 263.4,725.7C265.9,724.7 267,724.3 270,722.7C273,721.1 277,718.6 281.9,715.7C286.8,712.8 295.2,708.5 300.4,704.4C305.6,700.3 309.9,694.3 314.3,690.3C318.7,686.3 324.4,681.9 328.1,679.4C331.8,676.9 334.5,677.2 337.5,674.9C340.5,672.6 343.8,668 346.7,664.9C349.6,661.8 352.9,658 355.9,655.5C358.9,653 362.7,650.5 365.2,649.5C367.7,648.5 369.2,648.8 371.4,649.3C373.6,649.8 376.4,651.3 379.1,652.7C381.8,654.1 385.3,656.2 388.3,657.9C391.3,659.6 394.6,661.9 397.6,663.6C400.6,665.3 403.9,667.4 406.8,668.7C409.7,670 413,670.7 416,671.5C419,672.3 422.4,673.2 425.4,673.4C428.4,673.6 431.5,673.5 434.5,673C437.5,672.5 440.2,671.7 443.9,670.5C447.6,669.3 453.9,667.9 457.6,665.8C461.3,663.7 463.3,660.6 467,657.4C470.7,654.2 476.4,649.7 480.8,646.1C485.2,642.5 491,637.3 494.7,634.8C498.4,632.3 501.1,631.3 504.1,630.4C507.1,629.5 510.3,629.3 513.2,629.1C516.1,628.9 519.7,628.9 522.4,629.1C525.1,629.3 527.7,629.7 530,630.1C532.3,630.5 534.1,630.4 536.6,631.6C539.1,632.8 542,635.3 545.6,637.6C549.2,639.9 555,644 559.4,646.1C563.8,648.2 569.3,649.5 573.3,650.8C577.3,652.1 581.6,652.9 584.6,654.5C587.6,656.1 589.2,657.8 591.8,661.1C594.4,664.4 598.1,670.6 601,675.3C603.9,680 607.3,686.2 610.2,690.3C613.1,694.4 616.4,698 619.4,700.7C622.4,703.4 625.9,705.7 628.9,707.3C631.9,708.9 635.2,710.2 638.1,711C641,711.8 644.4,712 647.3,712C650.2,712 653.5,711.5 656.5,711C659.5,710.5 662.8,710.1 665.8,709.1C668.8,708.1 672,706.4 675,705C678,703.6 681.4,701.5 684.4,700.1C687.4,698.7 690.7,698.1 693.6,696.5C696.5,694.9 699.8,692.8 702.8,690.3C705.8,687.8 709.1,684 712.1,680.9C715.1,677.8 718.4,674.3 721.3,671.1C724.2,667.9 727.6,663.9 730.5,661.1C733.4,658.3 736.7,655.4 739.7,653.6C742.7,651.8 746,650.6 749,649.8C752,649 755.2,648.5 758.2,648.5C761.2,648.5 763.9,649.4 767.6,649.8C771.3,650.2 777.7,651.2 781.4,651.2C785.1,651.2 787.8,650.3 790.8,649.8C793.8,649.3 797.1,648.6 800,648C802.9,647.4 805.4,647.4 809.1,646.1C812.8,644.8 819.8,641.1 823.1,640C826.4,638.9 826.9,638.9 829.8,639.1C832.7,639.3 837.4,640.2 841.5,641C845.6,641.8 850.9,643.2 855.4,644.2C859.9,645.2 865.7,646.6 869.4,647.4C873.1,648.2 875.7,649 878.6,648.9C881.5,648.8 884.8,647.6 887.8,647C890.8,646.4 894.1,645.6 897.1,645.1C900.1,644.6 903.4,644.6 906.3,643.8C909.2,643 912.9,640.7 915.5,639.9C918.1,639.1 920.3,638.7 922.5,639.1C924.7,639.5 926.8,640.4 929.4,642.3C932,644.2 935.7,647.9 938.7,650.8C941.7,653.7 945,657.6 947.9,660.2C950.8,662.8 954.4,665.2 957.1,666.8C959.8,668.4 962.3,669.6 964.5,670C966.7,670.4 968.4,670 971,669.6C973.6,669.2 977.5,667.8 980.5,667.3C983.5,666.8 986.8,666.1 989.7,666.2C992.6,666.3 996,667.2 998.9,667.7C1001.8,668.2 1005.1,669.1 1008.1,669.6C1011.1,670.1 1014.4,670.3 1017.4,671.1C1020.4,671.9 1023.7,673.2 1026.6,674.3C1029.5,675.4 1032.9,676.7 1035.8,678.1C1038.7,679.5 1042,681.1 1045,682.8C1048,684.5 1051.5,686.9 1054.5,688.8C1057.5,690.7 1062.2,693.6 1063.7,694.5" fill="none" stroke="#f2690d" stroke-width="1"/>
<path d="M0,699.7C1.4,698.6 6.8,693.5 9,693.1C11.2,692.7 10.7,693.2 13.7,696.9C16.7,700.6 24,713.8 27.7,716.1C31.4,718.4 34,713.9 36.9,711C39.8,708.1 43.9,700.1 46.1,697.8C48.3,695.5 49.1,696.7 50.6,696.9C52.1,697.1 53.2,699.1 55.4,699.2C57.6,699.3 61.7,698.7 64.6,697.3C67.5,695.9 71.6,692.5 73.8,690.3C76,688.1 77,685.5 78.5,683.7C80,681.9 81.5,679.1 83,679C84.5,678.9 86.2,681.4 87.7,682.8C89.2,684.2 90.1,686.3 92.3,687.5C94.5,688.7 99.5,690.1 101.7,690.3C103.9,690.5 104.7,688 106.2,688.8C107.7,689.6 109.4,693.3 110.9,695C112.4,696.7 113.2,697.8 115.4,699.2C117.6,700.6 122.4,702.1 124.6,703.9C126.8,705.7 126.4,710.3 129.4,710.7C132.4,711.1 139.4,707.5 143.1,706.7C146.8,705.9 150.3,706.9 152.5,705.9C154.7,704.9 155.5,700.9 157,700.7C158.5,700.5 160.2,703.4 161.7,704.4C163.2,705.4 164.8,706.8 166.3,706.9C167.8,707 168.1,704 171,705C173.9,706 181.8,712.6 184.7,713.3C187.6,714 187.9,709.7 189.4,709.1C190.9,708.5 192.4,709 193.9,709.7C195.4,710.4 196.4,710.9 198.6,713.3C200.8,715.7 205.7,721.4 207.9,724.6C210.1,727.8 211.1,730.9 212.6,733.2C214.1,735.5 215.6,738.6 217.1,738.7C218.6,738.8 220.3,734.7 221.8,733.6C223.3,732.5 224.8,732.2 226.3,732.1C227.8,732 228,733.6 231,733.2C234,732.8 241.8,730.2 244.8,729.9C247.8,729.6 248,731.8 249.5,731.2C251,730.6 252,728 254.2,726.1C256.4,724.2 261.1,721.1 263.4,719.1C265.7,717.1 266.6,714.6 268.8,713.3C271,712 275.1,712.3 277.2,711C279.3,709.7 280.4,706.2 281.9,705.4C283.4,704.6 283.7,708.1 286.7,705.8C289.7,703.5 296.7,696.2 300.4,691.3C304.1,686.4 307.4,677.8 309.6,674.9C311.8,672 312.1,673.6 314.3,673C316.5,672.4 321.2,672.1 323.4,671.1C325.6,670.1 326.6,667.7 328.1,666.8C329.6,665.9 331.3,665.6 332.8,665.5C334.3,665.4 336,667.8 337.5,666.2C339,664.6 340,659.6 342.2,655.5C344.4,651.4 349,643.7 351.2,640.4C353.4,637.1 354.4,635.6 355.9,634.8C357.4,634 359.2,634.4 360.7,635.3C362.2,636.2 363.7,638.4 365.2,640.4C366.7,642.4 368.4,645.7 369.9,648C371.4,650.3 372.2,651.7 374.4,654.5C376.6,657.3 381.4,663.4 383.6,665.5C385.8,667.6 386.8,667 388.3,667.7C389.8,668.4 391.5,668.5 393,669.6C394.5,670.7 396.1,673.2 397.6,674.3C399.1,675.4 400.8,675.5 402.3,676.2C403.8,676.9 405.3,678.3 406.8,678.6C408.3,678.9 410,678.6 411.5,678.1C413,677.6 414.5,675.5 416,675.3C417.5,675.1 419.2,676.6 420.7,676.8C422.2,677 423.9,677.2 425.4,676.8C426.9,676.4 427.7,675.5 429.9,674.3C432.1,673.1 437,671.4 439.2,669.6C441.4,667.8 442.4,664.4 443.9,663C445.4,661.6 447.1,661.2 448.6,661.1C450.1,661 451.7,662.9 453.1,662.4C454.5,661.9 456.1,660.5 457.6,657.9C459.1,655.3 460.8,649.1 462.3,646.1C463.8,643.1 465.5,640.9 467,639.1C468.5,637.3 469.4,635.9 471.6,634.8C473.8,633.7 478.6,633.3 480.8,632C483,630.7 483.3,628 485.5,626.7C487.7,625.4 492.5,624.6 494.7,624C496.9,623.4 497.9,623.1 499.4,622.9C500.9,622.7 502.6,622.5 504.1,622.9C505.6,623.3 507.1,624.5 508.6,625.4C510.1,626.3 511,628.1 513.2,628.6C515.4,629.1 520.2,628.2 522.4,628.7C524.6,629.2 525.9,631.3 527.1,632C528.3,632.7 528.5,632.5 530,632.9C531.5,633.3 534.9,633.2 536.6,634.8C538.3,636.4 539.5,640.8 540.9,643.2C542.3,645.6 543.4,647.8 545.6,649.8C547.8,651.8 551.2,654.6 554.9,655.5C558.6,656.4 564.9,655.1 568.6,655.5C572.3,655.9 575.8,657.7 578,658.3C580.2,658.9 581,657.8 582.5,659.2C584,660.6 585.7,663.8 587.2,667.3C588.7,670.8 590.3,676.3 591.8,680.9C593.3,685.5 594.3,691.8 596.5,696.3C598.7,700.8 602.8,705.5 605.7,709.1C608.6,712.7 612.7,717.1 614.9,718.9C617.1,720.7 617.9,720.2 619.4,720.1C620.9,720 621.8,718.7 624.1,718.2C626.4,717.7 631.4,717.5 633.6,717.2C635.8,716.9 636.7,716.2 638.1,716.1C639.5,716 641.1,716.9 642.6,716.3C644.1,715.7 645.1,713.8 647.3,712.5C649.5,711.2 653.5,709.3 656.5,708.2C659.5,707.1 663.6,706.7 665.8,705.8C668,704.9 668.3,704.8 670.5,702.6C672.7,700.4 677.5,694.2 679.7,692.2C681.9,690.2 682.2,690.7 684.4,690.3C686.6,689.9 691.4,690.7 693.6,689.9C695.8,689.1 696.6,687.6 698.1,685.6C699.6,683.6 700.6,681.3 702.8,677.1C705,672.9 709.1,663.6 712.1,659.2C715.1,654.8 718.4,652.4 721.3,649.8C724.2,647.2 728.3,644.5 730.5,643.2C732.7,641.9 733,641.4 735.2,641.4C737.4,641.4 742.3,642.8 744.5,643.2C746.7,643.6 747.5,644.1 749,644.2C750.5,644.3 752.2,642.9 753.7,643.6C755.2,644.3 756,647 758.2,648.5C760.4,650 765.4,652.5 767.6,653.2C769.8,653.9 769.9,652.8 772.1,652.7C774.3,652.6 779.2,652.8 781.4,652.3C783.6,651.8 784.6,650.4 786.1,649.8C787.6,649.2 789.3,649.3 790.8,648.5C792.3,647.7 793.8,646 795.3,645.1C796.8,644.2 798.4,643.3 799.9,642.9C801.4,642.5 803.1,642.5 804.6,642.7C806.1,642.9 807.6,644.9 809.1,644.2C810.6,643.5 812.3,640.2 813.8,638.5C815.3,636.8 817,634.8 818.5,633.8C820,632.8 821.6,632.1 823.1,632.3C824.6,632.5 826.3,633.6 827.8,634.8C829.3,636 830.8,638.2 832.3,639.5C833.8,640.8 834.8,642.2 837,643.2C839.2,644.2 843.3,644.7 846.2,645.5C849.1,646.3 852.4,647.7 855.4,648.5C858.4,649.3 861.7,649.5 864.7,650.2C867.7,650.9 871.7,652.8 873.9,652.7C876.1,652.6 877.1,651 878.6,649.8C880.1,648.6 881.6,646.4 883.1,645.5C884.6,644.6 886.3,644.6 887.8,644.2C889.3,643.8 891,643.6 892.5,643.2C894,642.8 895.6,641.4 897.1,641.4C898.6,641.4 900.3,643.1 901.8,643.2C903.3,643.3 904.8,643.5 906.3,642.3C907.8,641.1 909.5,637.7 911,635.7C912.5,633.7 914,629.7 915.5,629.7C917,629.7 918.7,633.5 920.2,635.7C921.7,637.9 923.4,640.5 924.9,643.2C926.4,645.9 927.9,649.7 929.4,652.7C930.9,655.7 932.6,659.1 934.1,662.1C935.6,665.1 937.2,669.4 938.7,671.5C940.2,673.6 941.9,674.2 943.4,675.3C944.9,676.4 946.4,677.3 947.9,678.1C949.4,678.9 951.1,680.2 952.6,680.5C954.1,680.8 955.6,680.5 957.1,680C958.6,679.5 960.3,678.5 961.8,677.1C963.3,675.7 965,673.1 966.5,671.5C968,669.9 969.5,667.9 971,666.8C972.5,665.7 974.3,665.4 975.8,664.9C977.3,664.4 979,663.9 980.5,663.6C982,663.3 983.5,662.7 985,663C986.5,663.3 988.2,664.7 989.7,665.5C991.2,666.3 992,666.8 994.2,667.7C996.4,668.6 1000.4,670.3 1003.4,671.1C1006.4,671.9 1010.5,672 1012.7,672.4C1014.9,672.8 1015.9,672.9 1017.4,673.7C1018.9,674.5 1019.9,675.7 1022.1,677.1C1024.3,678.5 1028.4,680.7 1031.3,682.4C1034.2,684.1 1037.5,685.5 1040.5,687.5C1043.5,689.5 1046.8,692.4 1049.8,695C1052.8,697.6 1056.8,701.4 1059,703.5C1061.2,705.6 1062.9,707.4 1063.7,708.2" fill="none" stroke="#1a2eff" stroke-width="1"/>
<path fill="#00ff00" d="M-1.4,644.3h2.9V661.3h-2.9zM3.2,644.9h2.9V661.3h-2.9zM7.8,646.8h2.9V661.3h-2.9zM12.4,651.5h2.9V661.3h-2.9zM17,658.9h2.9V661.3h-2.9zM40.2,658.5h2.9V661.3h-2.9zM44.8,653.2h2.9V661.3h-2.9zM49.4,654.3h2.9V661.3h-2.9zM54,657.5h2.9V661.3h-2.9zM58.7,658.5h2.9V661.3h-2.9zM63.3,657.9h2.9V661.3h-2.9zM67.9,656.6h2.9V661.3h-2.9zM72.5,653.8h2.9V661.3h-2.9zM77.2,649.4h2.9V661.3h-2.9zM81.8,649.1h2.9V661.3h-2.9zM86.4,654.7h2.9V661.3h-2.9zM91,660h2.9V661.3h-2.9zM95.6,660.9h2.9V661.3h-2.9zM104.9,660.9h2.9V661.3h-2.9zM155.8,659h2.9V661.3h-2.9zM252.8,659.4h2.9V661.3h-2.9zM257.5,657.5h2.9V661.3h-2.9zM262.1,654.7h2.9V661.3h-2.9zM266.7,652.3h2.9V661.3h-2.9zM271.3,653.2h2.9V661.3h-2.9zM276,653.6h2.9V661.3h-2.9zM280.6,650.4h2.9V661.3h-2.9zM285.2,653.2h2.9V661.3h-2.9zM289.8,650.8h2.9V661.3h-2.9zM294.5,650.2h2.9V661.3h-2.9zM299.1,648.3h2.9V661.3h-2.9zM303.7,643.6h2.9V661.3h-2.9zM308.3,640.4h2.9V661.3h-2.9zM313,643.6h2.9V661.3h-2.9zM317.6,646.6h2.9V661.3h-2.9zM322.2,648.5h2.9V661.3h-2.9zM326.8,648.1h2.9V661.3h-2.9zM331.4,650h2.9V661.3h-2.9zM336.1,653.2h2.9V661.3h-2.9zM340.7,647.4h2.9V661.3h-2.9zM345.3,643.6h2.9V661.3h-2.9zM349.9,640.8h2.9V661.3h-2.9zM354.6,640h2.9V661.3h-2.9zM359.2,644.7h2.9V661.3h-2.9zM363.8,651.7h2.9V661.3h-2.9zM368.4,659.2h2.9V661.3h-2.9zM433.2,660.2h2.9V661.3h-2.9zM437.8,658.9h2.9V661.3h-2.9zM442.4,654.5h2.9V661.3h-2.9zM447,654.1h2.9V661.3h-2.9zM451.7,657.3h2.9V661.3h-2.9zM456.3,652.6h2.9V661.3h-2.9zM460.9,646h2.9V661.3h-2.9zM465.5,644.2h2.9V661.3h-2.9zM470.2,644.2h2.9V661.3h-2.9zM474.8,646.6h2.9V661.3h-2.9zM479.4,648.9h2.9V661.3h-2.9zM484,646h2.9V661.3h-2.9zM488.7,648.5h2.9V661.3h-2.9zM493.3,650.4h2.9V661.3h-2.9zM497.9,651.7h2.9V661.3h-2.9zM502.5,653.6h2.9V661.3h-2.9zM507.1,657h2.9V661.3h-2.9zM511.8,660.7h2.9V661.3h-2.9zM516.4,661.1h2.9V661.3h-2.9zM521,660.8h2.9V661.3h-2.9zM650.5,660.5h2.9V661.3h-2.9zM655.1,659.6h2.9V661.3h-2.9zM659.7,659.2h2.9V661.3h-2.9zM664.3,658.3h2.9V661.3h-2.9zM669,656h2.9V661.3h-2.9zM673.6,653h2.9V661.3h-2.9zM678.2,651.1h2.9V661.3h-2.9zM682.8,651.7h2.9V661.3h-2.9zM687.5,654h2.9V661.3h-2.9zM692.1,655.1h2.9V661.3h-2.9zM696.7,652.3h2.9V661.3h-2.9zM701.3,647.6h2.9V661.3h-2.9zM706,642.3h2.9V661.3h-2.9zM710.6,640.4h2.9V661.3h-2.9zM715.2,639.8h2.9V661.3h-2.9zM719.8,640.4h2.9V661.3h-2.9zM724.5,642.3h2.9V661.3h-2.9zM729.1,643.6h2.9V661.3h-2.9zM733.7,646.4h2.9V661.3h-2.9zM738.3,649.8h2.9V661.3h-2.9zM742.9,652.6h2.9V661.3h-2.9zM747.6,655.5h2.9V661.3h-2.9zM752.2,656.4h2.9V661.3h-2.9zM756.8,660.9h2.9V661.3h-2.9zM784.6,660.2h2.9V661.3h-2.9zM789.2,659.6h2.9V661.3h-2.9zM793.8,657.7h2.9V661.3h-2.9zM798.4,656.8h2.9V661.3h-2.9zM803.1,657.9h2.9V661.3h-2.9zM807.7,659.6h2.9V661.3h-2.9zM812.3,654.9h2.9V661.3h-2.9zM816.9,653.2h2.9V661.3h-2.9zM821.6,653.6h2.9V661.3h-2.9zM826.2,657.3h2.9V661.3h-2.9zM830.8,661h2.9V661.3h-2.9zM881.7,659.6h2.9V661.3h-2.9zM886.3,658.9h2.9V661.3h-2.9zM890.9,658.9h2.9V661.3h-2.9zM895.5,657.9h2.9V661.3h-2.9zM900.2,659.8h2.9V661.3h-2.9zM904.8,659.6h2.9V661.3h-2.9zM909.4,655.5h2.9V661.3h-2.9zM914,651.3h2.9V661.3h-2.9zM918.6,658.3h2.9V661.3h-2.9zM969.5,659.2h2.9V661.3h-2.9zM974.1,658.3h2.9V661.3h-2.9zM978.8,657.9h2.9V661.3h-2.9zM983.4,658.3h2.9V661.3h-2.9zM988,660.5h2.9V661.3h-2.9z"/>
<path fill="#ff0000" d="M21.7,661.3h2.9V666h-2.9zM26.3,661.3h2.9V668.8h-2.9zM30.9,661.3h2.9V664.5h-2.9zM35.5,661.3h2.9V662.6h-2.9zM100.3,661.3h2.9V661.7h-2.9zM109.5,661.3h2.9V666h-2.9zM114.1,661.3h2.9V668.8h-2.9zM118.8,661.3h2.9V669.2h-2.9zM123.4,661.3h2.9V669.2h-2.9zM128,661.3h2.9V673.2h-2.9zM132.6,661.3h2.9V669.8h-2.9zM137.3,661.3h2.9V666.9h-2.9zM141.9,661.3h2.9V664.7h-2.9zM146.5,661.3h2.9V663.7h-2.9zM151.1,661.3h2.9V662.6h-2.9zM160.4,661.3h2.9V661.9h-2.9zM165,661.3h2.9V663.7h-2.9zM169.6,661.3h2.9V661.7h-2.9zM174.2,661.3h2.9V664.5h-2.9zM178.9,661.3h2.9V665.6h-2.9zM183.5,661.3h2.9V667.3h-2.9zM188.1,661.3h2.9V662.8h-2.9zM192.7,661.3h2.9V662.6h-2.9zM197.4,661.3h2.9V665.1h-2.9zM202,661.3h2.9V669.2h-2.9zM206.6,661.3h2.9V672h-2.9zM211.2,661.3h2.9V677.9h-2.9zM215.9,661.3h2.9V678.2h-2.9zM220.5,661.3h2.9V670.7h-2.9zM225.1,661.3h2.9V667.9h-2.9zM229.7,661.3h2.9V666.9h-2.9zM234.4,661.3h2.9V665.4h-2.9zM239,661.3h2.9V663.7h-2.9zM243.6,661.3h2.9V662.6h-2.9zM248.2,661.3h2.9V663.4h-2.9zM373.1,661.3h2.9V664.9h-2.9zM377.7,661.3h2.9V669.2h-2.9zM382.3,661.3h2.9V672.4h-2.9zM386.9,661.3h2.9V672h-2.9zM391.6,661.3h2.9V670.5h-2.9zM396.2,661.3h2.9V673h-2.9zM400.8,661.3h2.9V671.8h-2.9zM405.4,661.3h2.9V671.5h-2.9zM410.1,661.3h2.9V669.6h-2.9zM414.7,661.3h2.9V664.9h-2.9zM419.3,661.3h2.9V665.4h-2.9zM423.9,661.3h2.9V664.9h-2.9zM428.5,661.3h2.9V662h-2.9zM525.6,661.3h2.9V663.6h-2.9zM530.3,661.3h2.9V664.3h-2.9zM534.9,661.3h2.9V664.3h-2.9zM539.5,661.3h2.9V670h-2.9zM544.1,661.3h2.9V673.3h-2.9zM548.8,661.3h2.9V673.9h-2.9zM553.4,661.3h2.9V673.9h-2.9zM558,661.3h2.9V671.5h-2.9zM562.6,661.3h2.9V669.6h-2.9zM567.3,661.3h2.9V667.7h-2.9zM571.9,661.3h2.9V667.3h-2.9zM576.5,661.3h2.9V666.8h-2.9zM581.1,661.3h2.9V667.1h-2.9zM585.7,661.3h2.9V671.8h-2.9zM590.4,661.3h2.9V682.4h-2.9zM595,661.3h2.9V689.9h-2.9zM599.6,661.3h2.9V690.7h-2.9zM604.2,661.3h2.9V689.7h-2.9zM608.9,661.3h2.9V687.8h-2.9zM613.5,661.3h2.9V684.6h-2.9zM618.1,661.3h2.9V680.5h-2.9zM622.7,661.3h2.9V675.6h-2.9zM627.4,661.3h2.9V672.4h-2.9zM632,661.3h2.9V669.6h-2.9zM636.6,661.3h2.9V666.8h-2.9zM641.2,661.3h2.9V665.8h-2.9zM645.9,661.3h2.9V662.1h-2.9zM761.4,661.3h2.9V662.8h-2.9zM766.1,661.3h2.9V664.9h-2.9zM770.7,661.3h2.9V663.3h-2.9zM775.3,661.3h2.9V662.8h-2.9zM779.9,661.3h2.9V662.6h-2.9zM835.4,661.3h2.9V664.5h-2.9zM840,661.3h2.9V664.5h-2.9zM844.7,661.3h2.9V664.9h-2.9zM849.3,661.3h2.9V665.3h-2.9zM853.9,661.3h2.9V665.8h-2.9zM858.5,661.3h2.9V665.3h-2.9zM863.2,661.3h2.9V665.4h-2.9zM867.8,661.3h2.9V665.3h-2.9zM872.4,661.3h2.9V665.4h-2.9zM877,661.3h2.9V663h-2.9zM923.3,661.3h2.9V664.3h-2.9zM927.9,661.3h2.9V672h-2.9zM932.5,661.3h2.9V676.7h-2.9zM937.1,661.3h2.9V680.9h-2.9zM941.8,661.3h2.9V679h-2.9zM946.4,661.3h2.9V678.1h-2.9zM951,661.3h2.9V677.7h-2.9zM955.6,661.3h2.9V673.9h-2.9zM960.3,661.3h2.9V669.6h-2.9zM964.9,661.3h2.9V663.3h-2.9zM992.6,661.3h2.9V662.4h-2.9zM997.2,661.3h2.9V663.6h-2.9zM1001.9,661.3h2.9V664.9h-2.9zM1006.5,661.3h2.9V664.5h-2.9zM1011.1,661.3h2.9V664.5h-2.9zM1015.7,661.3h2.9V664.9h-2.9zM1020.4,661.3h2.9V666.8h-2.9zM1025,661.3h2.9V667.3h-2.9zM1029.6,661.3h2.9V668.3h-2.9zM1034.2,661.3h2.9V669.2h-2.9zM1038.9,661.3h2.9V670h-2.9zM1043.5,661.3h2.9V671.5h-2.9zM1048.1,661.3h2.9V672.4h-2.9zM1052.7,661.3h2.9V673.7h-2.9zM1057.4,661.3h2.9V674.3h-2.9zM1062,661.3h2.9V675.6h-2.9z"/>
</g>
<g clip-path="url(#cp2)">
<g shape-rendering="crispEdges">
<rect x="0" y="751" width="1064" height="19" fill="#00ff00" fill-opacity="0.5"/>
<rect x="0" y="794" width="1064" height="20" fill="#ff0000" fill-opacity="0.5"/>
<rect x="1063" y="751" width="1" height="19" fill="#0a2a0a"/>
<rect x="1063" y="794" width="1" height="20" fill="#2a0a0a"/>
<rect x="0" y="751" width="1" height="18" fill="#114411"/>
<rect x="0" y="794" width="1" height="20" fill="#441111"/>
</g>
<rect x="1" y="770" width="1063" height="1" fill="#fff" fill-opacity="0.8" shape-rendering="crispEdges"/>
<rect x="1" y="793" width="1063" height="1" fill="#fff" fill-opacity="0.8" shape-rendering="crispEdges"/>
<line x1="0" y1="769.5" x2="1064" y2="769.5" stroke="#000" stroke-width="1" stroke-dasharray="4.2 0.8" stroke-opacity="0.75"/>
<line x1="0" y1="794.5" x2="1064" y2="794.5" stroke="#000" stroke-width="1" stroke-dasharray="4.2 0.8" stroke-opacity="0.75"/>
<path d="M0,785.7L4.5,784.2L8.9,784.6L13.8,788.6L23,793.6L27.9,791.3L32.8,785.3L37.3,786.9L41.7,783.5L46.2,781.3L50.9,784.6L55.3,787.3L60.3,785.7L69.2,784.2L73.6,782.4L78.6,779.5L83,782L88.1,786.4L92.6,788L97.5,785.7L102,785.7L106.4,785.1L111.6,789.5L116,789.1L125,789.1L129.4,792.4L133.9,786.9L142.8,786.4L147.7,788L152.4,787.3L156.9,783.5L161.8,789.5L166.3,789.1L170.7,786.2L175.6,789.5L180.1,789.5L184.8,790.9L189.7,785.3L194.2,788L203.5,792L208.2,793.1L212.7,795.8L217.1,793.6L222,786.2L226.5,788L231.4,789.5L236.6,788.6L241,788.6L249.5,790.9L254.4,786.2L258.9,787.3L263.8,786.2L267.8,785.3L272.7,787.3L277.4,787.3L282.3,784L286.8,788L291.2,783.1L295.7,783.5L300.2,781.7L305.1,778.6L309.8,777.9L314.7,782L320,782.4L323.8,782.4L328.3,779.7L332.9,781.7L337.4,783.5L341.9,775.7L346.8,775L351.7,773.9L356.2,774.1L360.6,779.1L365.7,782.4L370.2,784.2L374.7,785.7L383.6,786.9L388.1,784.6L393,783.1L397.4,787.5L402.1,784.6L407,786.2L416,781.3L420.9,785.3L425.3,784L429.8,782L434.5,780.8L439.4,780.8L443.9,777.5L448.8,780.6L453.2,783.5L457.7,777.5L462.8,773.9L467.3,775L471.8,776.4L476.2,777.5L480.7,777.3L485.6,773.5L490.3,776.8L494.7,776.8L499.6,775.7L504.1,776.2L508.6,778.4L513.5,780.2L517.9,777.5L522.4,776.2L527.1,780.8L532,778.6L536.5,778.4L540.9,785.3L545.8,784.6L550.3,783.5L554.8,784L559.9,780.6L564.4,780.8L568.8,780.6L573.3,782L578.2,782L582.7,782.8L587.4,790.2L591.8,796.5L596.7,797.4L601.2,793.1L610.1,794L614.6,792.9L619.7,791.3L624.2,789.5L629.1,791.3L633.5,791.8L640,790.9L642.7,792.4L647.8,787.3L652.3,788.4L661.2,789.8L665.7,789.1L670.6,786.4L675,783.5L679.5,783.5L684.2,785.7L689.1,788L693.6,787.3L698,781.3L702.9,776.4L707.6,773.5L712.1,774.1L721.5,774.1L725.9,775.3L730.4,773.9L734.8,776.2L739.8,778.4L744.2,778.6L748.9,778.6L753.4,776.8L758.3,784.2L762.7,782.4L767.7,783.5L772.3,779.1L776.8,780.2L781.3,779.7L786.2,775.3L791.1,777.9L795.5,774.6L800.2,775.3L804.7,777.3L809.2,779.1L814.1,771.7L818.5,773L823,774.6L827.5,779.1L832.4,781.7L836.8,781.7L841.5,779.7L846,779.7L850.9,780.2L855.4,781.3L859.8,779.5L864.7,780.8L869.2,780.2L873.9,781.3L878.3,776.8L883.2,773.5L888.2,776.2L892.6,776.8L897.1,774.6L901.6,779.7L906.2,776.8L910.7,772.4L915.6,770.1L920.1,782L924.5,784.2L929.5,788L934.1,787.5L938.6,789.5L943.5,785.3L948,786.2L952.4,786.9L956.9,784L960,782.8L966.2,778.6L970.7,779.1L975.6,781.3L984.5,781.3L989.5,784.6L994.1,785.3L998.6,785.3L1003.1,786.2L1008,784.6L1012.4,785.1L1017.6,786.4L1022,789.1L1026.5,788.4L1031,789.5L1035.9,790.9L1040.3,791.8L1044.8,793.6L1049.3,794.7L1053.7,796.2L1058.2,796.9L1063.8,799.1" fill="none" stroke="#1a2eff" stroke-width="1" stroke-linejoin="round"/>
</g>
<g clip-path="url(#cp3)">
<path d="M0,854.6L5.6,840.1L8.9,842.4L14.5,850.2L23,859.5L27.9,856.4L32.8,854.2L37.5,855.3L45.7,852L50.9,858L55.1,858L60.3,874.7L64.7,860.9L69.6,860.9L78.6,855.3L83,858L88.1,867.6L92.6,868L101.5,866.9L106.4,856.9L110.9,861.3L115.4,853.1L120.5,856.9L125,865.8L129.4,872.5L133.9,869.6L138.4,874.7L143.5,864.7L148,863.1L152.9,865.3L157.3,860.2L161.8,874.3L166.3,877.6L170.7,878.5L175.9,883.2L180.3,872.5L185.2,871.4L189.7,867.4L194.2,872.5L199.3,880.3L203.5,874.3L208.2,878.1L212.7,888.6L217.6,883.6L222,861.8L227,877.4L232.1,881.4L236.6,880.3L240.6,877L245.5,880.3L249.9,889.7L254.4,869.1L258.9,872L263.8,874.7L268.5,865.1L272.7,869.8L277.4,866.9L282.3,869.8L286.8,872.5L291.2,858.4L300.2,848.6L305.3,831.2L310.2,833.4L314.7,854.2L320,847.9L328.3,840.8L332.9,843.5L337.4,844.8L341.9,825.2L346.8,831.6L351.7,826.3L356.2,829L360.6,837.2L364.6,839L369.5,843.5L374.7,851.7L379.1,844.6L384,853.5L388.7,849.5L393,850.2L397.4,865.8L402.1,863.1L416,849.5L420.9,861.3L425.3,855.7L429.8,849.5L434.5,863.6L439.4,865.8L443.9,861.8L448.8,865.8L453.2,864L457.7,844.6L462.8,831.9L471.8,831.6L480.7,834.5L485.6,829.4L490.3,825.2L494.7,829.6L499.6,824.7L504.1,829.4L508.6,836.8L513.5,831.9L517.9,829.6L522.4,831.2L527.1,838.6L532,835L536.5,840.6L540.9,847.9L545.8,841.2L550.3,852.4L554.8,861.8L559.9,854.6L564.4,853.1L568.8,850.6L573.3,853.5L578.2,862.4L582.7,857.5L587.4,868.5L591.8,885.9L596.7,889.7L601.2,881.4L605.2,879.9L610.1,885.4L614.6,886.5L619.7,878.7L624.2,879.6L629.1,883.2L633.5,872.5L636.9,872.5L640,874.7L642.7,876.9L647.1,872.5L652.3,878.1L656.7,878.7L661.2,880.3L665.7,877.6L670.6,874.7L675,870.7L679.5,861.3L684.2,848.6L688.7,847.9L693.6,852.4L698,844.6L702.9,836.3L707.6,832.8L712.1,835L716.5,837.2L721.5,834.5L725.9,834.5L730.4,833L734.8,832.3L739.8,839.5L744.2,837.9L748.9,837.2L753.4,834.1L758.3,842.4L762.7,842.4L767.7,846.4L772.3,841.7L776.8,840.1L781.3,836.3L786.2,831.9L791.1,840.1L795.5,843L800.2,849.1L804.7,849.7L809.2,851.7L814.1,840.1L818.5,840.8L827.5,846.4L832.4,848.4L836.8,848.4L841.5,845.3L846,847.5L850.9,840.6L855.4,843.5L859.8,840.8L864.7,846.8L869.2,844.6L873.9,846.2L878.3,846.2L883.2,840.1L888.2,846.4L892.6,846.4L897.1,842.4L901.6,845.3L906.2,852.4L910.7,843.9L915.6,837.9L920.1,849.1L924.5,849.7L929.5,856.4L934.1,859.8L938.6,863.6L943.5,856.4L948,858L952.4,861.3L956.9,855.7L960,854.2L966.2,846.2L970.7,851.7L975.6,858.6L980.1,856.4L984.5,855.7L989.5,864L994.1,860.2L998.6,863.1L1003.1,872.5L1008,875.4L1012.4,859.1L1017.6,856.4L1022,854L1026.5,853.5L1031,850.2L1035.9,859.5L1040.3,857.5L1044.8,860.2L1049.3,865.8L1053.7,872.5L1058.2,878.1L1063.8,883.2" fill="none" stroke="#1a2eff" stroke-width="1" stroke-linejoin="round"/>
</g>
<g shape-rendering="crispEdges"><rect x="0" y="751" width="1" height="18" fill="#223322"/><rect x="0" y="794" width="1" height="20" fill="#332222"/></g>
<g shape-rendering="crispEdges" fill="#666">
<rect x="671" y="615" width="20" height="1"/>
<rect x="671" y="617" width="20" height="1"/>
<rect x="671" y="619" width="20" height="1"/>
<rect x="671" y="743" width="20" height="1"/>
<rect x="671" y="745" width="20" height="1"/>
<rect x="671" y="747" width="20" height="1"/>
<rect x="671" y="817" width="20" height="1"/>
<rect x="671" y="819" width="20" height="1"/>
<rect x="671" y="821" width="20" height="1"/>
</g>
<rect x="5" y="5" width="78" height="21" fill="#000" fill-opacity="0.6" shape-rendering="crispEdges"/>
<rect x="5" y="5" width="2" height="21" fill="#26806e" shape-rendering="crispEdges"/>
<text x="15.5" y="20.1" font-size="11" font-weight="bold" fill="#fff">AUD/USD</text>
<rect x="5" y="32" width="84" height="21" fill="#000" fill-opacity="0.6" shape-rendering="crispEdges"/>
<rect x="5" y="32" width="2" height="21" fill="#0000ff" shape-rendering="crispEdges"/>
<text x="15.5" y="46.2" font-size="11" font-weight="bold" fill="#fff">SMA (20,0)</text>
<rect x="5" y="59" width="84" height="21" fill="#000" fill-opacity="0.6" shape-rendering="crispEdges"/>
<rect x="5" y="59" width="2" height="21" fill="#f25c05" shape-rendering="crispEdges"/>
<text x="15.5" y="73.2" font-size="11" font-weight="bold" fill="#fff">SMA (55,0)</text>
<rect x="5" y="86" width="90" height="21" fill="#000" fill-opacity="0.6" shape-rendering="crispEdges"/>
<rect x="5" y="86" width="2" height="21" fill="#b8a000" shape-rendering="crispEdges"/>
<text x="15.5" y="100.2" font-size="11" font-weight="bold" fill="#fff">SMA (100,0)</text>
<rect x="5" y="113" width="90" height="21" fill="#000" fill-opacity="0.6" shape-rendering="crispEdges"/>
<rect x="5" y="113" width="2" height="21" fill="#4fbf10" shape-rendering="crispEdges"/>
<text x="15.5" y="127.2" font-size="11" font-weight="bold" fill="#fff">SMA (200,0)</text>
<rect x="5" y="626" width="109" height="21" fill="#000" fill-opacity="0.6" shape-rendering="crispEdges"/>
<rect x="5" y="626" width="2" height="21" fill="#0000ff" shape-rendering="crispEdges"/>
<text x="15.5" y="640.2" font-size="11" font-weight="bold" fill="#fff">MACD (12,26,9)</text>
<rect x="5" y="754" width="110" height="21" fill="#000" fill-opacity="0.6" shape-rendering="crispEdges"/>
<rect x="5" y="754" width="2" height="21" fill="#00ff00" shape-rendering="crispEdges"/>
<text x="15.5" y="768.2" font-size="11" font-weight="bold" fill="#fff">RSI (14,70,30,1)</text>
<rect x="5" y="828" width="79" height="21" fill="#000" fill-opacity="0.6" shape-rendering="crispEdges"/>
<rect x="5" y="828" width="2" height="21" fill="#0000ff" shape-rendering="crispEdges"/>
<text x="15.5" y="842.2" font-size="11" font-weight="bold" fill="#fff">MOM (20)</text>
<g font-size="11" fill="#555">
<text x="1371" y="27.7">0.6580</text>
<text x="1371" y="60.1">0.6560</text>
<text x="1371" y="92.5">0.6540</text>
<text x="1371" y="125">0.6520</text>
<text x="1371" y="157.4">0.6500</text>
<text x="1371" y="189.8">0.6480</text>
<text x="1371" y="222.2">0.6460</text>
<text x="1371" y="254.6">0.6440</text>
<text x="1371" y="287.1">0.6420</text>
<text x="1371" y="319.5">0.6400</text>
<text x="1371" y="351.9">0.6380</text>
<text x="1371" y="384.3">0.6360</text>
<text x="1371" y="416.7">0.6340</text>
<text x="1371" y="449.2">0.6320</text>
<text x="1371" y="481.6">0.6300</text>
<text x="1371" y="514">0.6280</text>
<text x="1371" y="546.4">0.6260</text>
<text x="1371" y="578.8">0.6240</text>
<text x="1371" y="611.3">0.6220</text>
<text x="1371" y="639.3">0.0010</text>
<text x="1371" y="665.5">-0.0000</text>
<text x="1371" y="691.4">-0.0010</text>
<text x="1371" y="717.4">-0.0020</text>
<text x="1371" y="743.8">-0.0030</text>
<text x="1371" y="786.2">50.0000</text>
<text x="1371" y="817.2">0.0000</text>
<text x="1371" y="855.3">0.0000</text>
<text x="1371" y="887.6">-0.0100</text>
</g>
<path d="M1367,391.5L1372,384H1415.5V399H1372z" fill="#2e4a73"/>
<text x="1371.5" y="396.3" font-size="11" font-weight="bold" fill="#fff">0.63531</text>
<text x="13.5" y="908.3" font-size="11" fill="#808080" text-anchor="middle">8</text>
<text x="129.5" y="908.3" font-size="11" fill="#808080" text-anchor="middle">14</text>
<text x="272.5" y="908.3" font-size="11" fill="#808080" text-anchor="middle">21</text>
<text x="416.5" y="908.3" font-size="11" fill="#808080" text-anchor="middle">28</text>
<text x="527.5" y="908.3" font-size="11" font-weight="bold" fill="#666" text-anchor="middle">Sep</text>
<text x="614.5" y="908.3" font-size="11" fill="#808080" text-anchor="middle">6</text>
<text x="702.5" y="908.3" font-size="11" fill="#808080" text-anchor="middle">11</text>
<text x="846.5" y="908.3" font-size="11" fill="#808080" text-anchor="middle">18</text>
<text x="989.5" y="908.3" font-size="11" fill="#808080" text-anchor="middle">25</text>
<text x="1128.5" y="908.3" font-size="11" font-weight="bold" fill="#666" text-anchor="middle">Oct</text>
<text x="1239.5" y="908.3" font-size="11" fill="#808080" text-anchor="middle">5</text>
<text x="1322.5" y="908.3" font-size="11" fill="#808080" text-anchor="middle">9</text>
</svg></body></html>
